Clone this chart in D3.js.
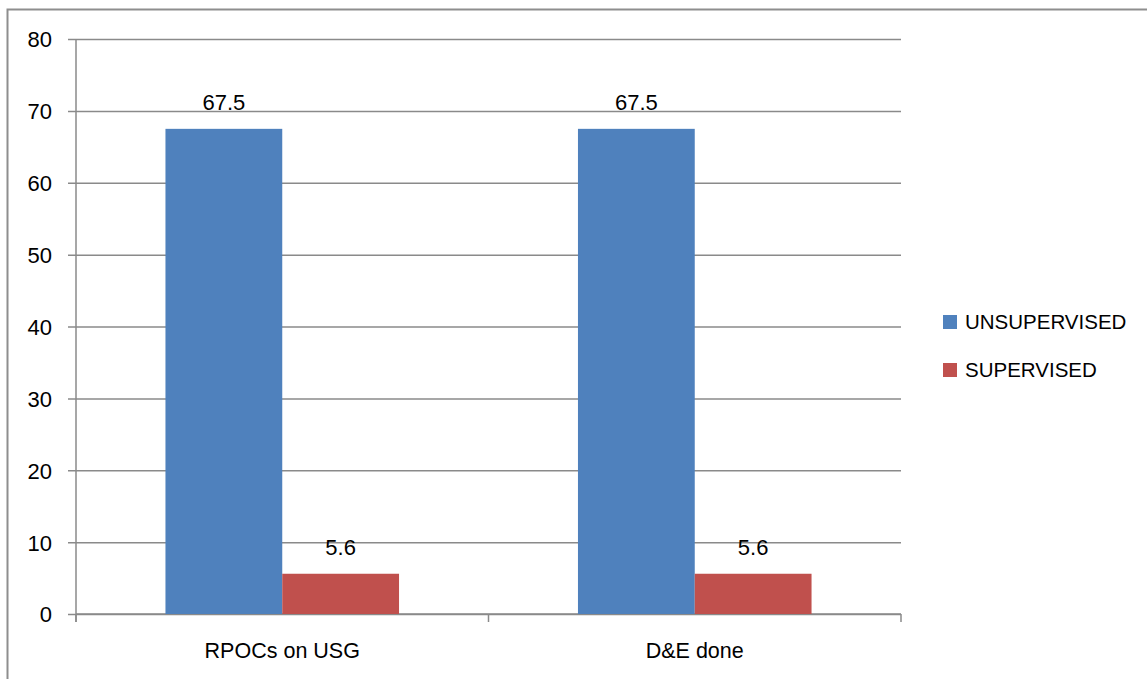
<!DOCTYPE html>
<html>
<head>
<meta charset="utf-8">
<script src="https://cdn.jsdelivr.net/npm/d3@7"></script>
<style>
  html, body { margin: 0; padding: 0; background: #fff; }
  svg { display: block; }
  text { font-family: "Liberation Sans", Arial, sans-serif; fill: #000; }
</style>
</head>
<body>
<div id="chart"></div>
<script>
const categories = ["RPOCs on USG", "D&E done"];
const seriesNames = ["UNSUPERVISED", "SUPERVISED"];
const unsupervised = [67.5, 67.5];
const supervised = [5.6, 5.6];
const yTicks = [0, 10, 20, 30, 40, 50, 60, 70, 80];
const colors = ["#4F81BD", "#C0504D"];

const seriesValues = [unsupervised, supervised];

const W = 1147, H = 679;
const svg = d3.select("#chart").append("svg").attr("width", W).attr("height", H);

// outer chart frame (runs off the right and bottom of the page)
svg.append("rect")
  .attr("x", 7.5).attr("y", 9.5)
  .attr("width", 1160).attr("height", 700)
  .attr("fill", "none").attr("stroke", "#8e8e8e").attr("stroke-width", 2);

const plot = { left: 76, right: 901, top: 39, bottom: 614 };
const gridColor = "#8a8a8a";

const y = d3.scaleLinear().domain([0, 80]).range([plot.bottom, plot.top]);
const x0 = d3.scaleBand().domain(categories).range([plot.left, plot.right]).padding(0);
const x1 = d3.scaleBand().domain(seriesNames)
  .range([0, x0.bandwidth()]).paddingInner(0).paddingOuter(0.766);

// horizontal gridlines with tick stubs
const yAxis = d3.axisLeft(y).tickValues(yTicks).tickSize(-(plot.right - plot.left)).tickPadding(0);
const yg = svg.append("g").attr("transform", `translate(${plot.left},0)`).call(yAxis);
yg.select(".domain").remove();
yg.selectAll(".tick line").attr("stroke", gridColor).attr("stroke-width", 1.5).attr("x1", -8);
yg.selectAll(".tick text")
  .attr("x", -24).attr("dy", "0.36em")
  .attr("text-anchor", "end")
  .style("font-size", "22px")
  .style("font-family", "'Liberation Sans', Arial, sans-serif");

// vertical axis line
svg.append("line")
  .attr("x1", plot.left).attr("x2", plot.left)
  .attr("y1", plot.top).attr("y2", plot.bottom + 8)
  .attr("stroke", gridColor).attr("stroke-width", 1.5);

// category axis with boundary ticks
const xg = svg.append("g").attr("transform", `translate(0,${plot.bottom})`);
xg.append("line")
  .attr("x1", plot.left).attr("x2", plot.right)
  .attr("stroke", gridColor).attr("stroke-width", 1.5);
const bounds = [plot.left, ...categories.map(c => x0(c) + x0.bandwidth())];
xg.selectAll("line.tk").data(bounds).join("line").attr("class", "tk")
  .attr("x1", d => d).attr("x2", d => d).attr("y1", 0).attr("y2", 8)
  .attr("stroke", gridColor).attr("stroke-width", 1.5);
xg.selectAll("text.cat").data(categories).join("text").attr("class", "cat")
  .attr("x", d => x0(d) + x0.bandwidth() / 2)
  .attr("y", 44)
  .attr("text-anchor", "middle")
  .style("font-size", "21.5px")
  .text(d => d);

// bars
const groups = svg.append("g").selectAll("g").data(categories).join("g")
  .attr("transform", d => `translate(${x0(d)},0)`);
groups.selectAll("rect")
  .data((c, i) => seriesNames.map((s, j) => ({ s, v: seriesValues[j][i], j })))
  .join("rect")
  .attr("x", d => x1(d.s))
  .attr("width", x1.bandwidth())
  .attr("y", d => y(d.v))
  .attr("height", d => y(0) - y(d.v))
  .attr("fill", d => colors[d.j]);

// value labels
groups.selectAll("text.val")
  .data((c, i) => seriesNames.map((s, j) => ({ s, v: seriesValues[j][i], j })))
  .join("text").attr("class", "val")
  .attr("x", d => x1(d.s) + x1.bandwidth() / 2)
  .attr("y", d => y(d.v) - 19)
  .attr("text-anchor", "middle")
  .style("font-size", "22px")
  .text(d => d.v);

// legend
const legend = svg.append("g").attr("transform", "translate(943,315)");
const items = legend.selectAll("g").data(seriesNames).join("g")
  .attr("transform", (d, i) => `translate(0,${i * 48})`);
items.append("rect").attr("width", 14).attr("height", 14).attr("fill", (d, i) => colors[i]);
items.append("text").attr("x", 22).attr("y", 14)
  .style("font-size", "20.5px").text(d => d);
</script>
</body>
</html>
